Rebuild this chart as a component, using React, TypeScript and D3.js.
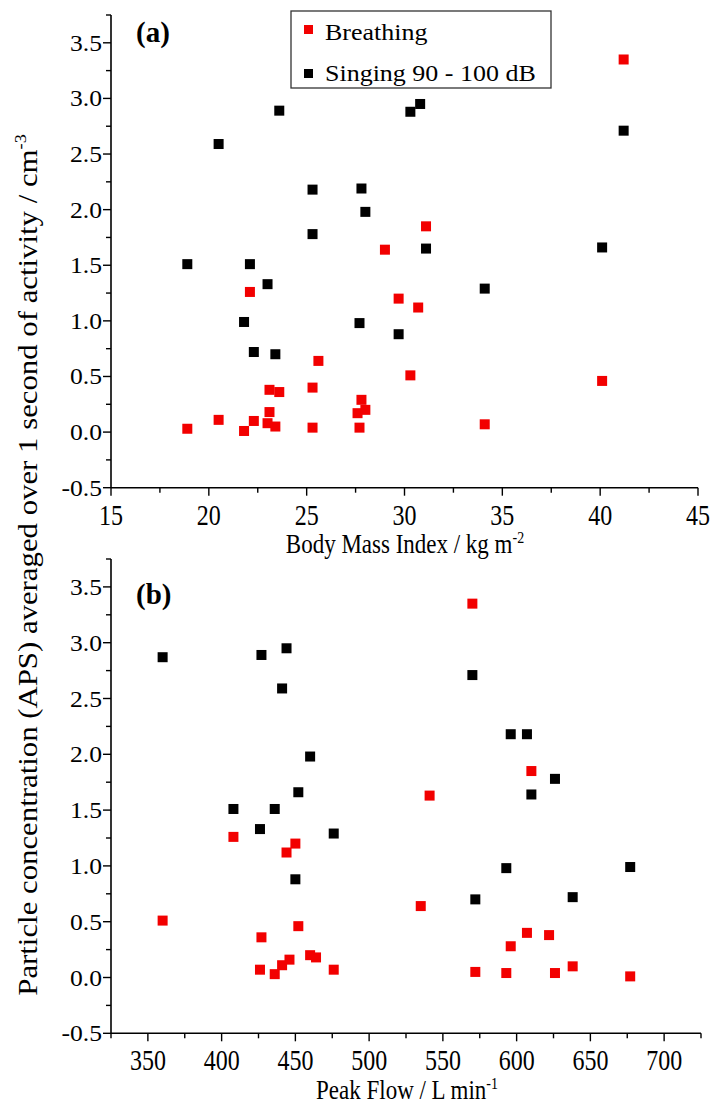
import React from 'react';
import * as d3 from 'd3';

// Panel (a): Body Mass Index
const breathingBMI = [41.2, 31.1, 29.0, 22.1, 29.7, 30.7, 25.6, 30.3, 40.1, 25.3, 23.1, 23.6, 27.8, 28.0, 23.1, 27.6, 20.5, 22.3, 23.0, 34.1, 23.4, 25.3, 27.7, 18.9, 21.8];
const breathingA = [3.35, 1.85, 1.64, 1.26, 1.20, 1.12, 0.64, 0.51, 0.46, 0.40, 0.38, 0.36, 0.29, 0.20, 0.18, 0.17, 0.11, 0.10, 0.08, 0.07, 0.05, 0.04, 0.04, 0.03, 0.01];
const singingBMI = [23.6, 20.5, 30.3, 30.8, 25.3, 27.8, 28.0, 25.3, 18.9, 22.1, 41.2, 31.1, 40.1, 23.0, 21.8, 27.7, 29.7, 22.3, 23.4, 34.1];
const singingA = [2.89, 2.59, 2.88, 2.95, 2.18, 2.19, 1.98, 1.78, 1.51, 1.51, 2.71, 1.65, 1.66, 1.33, 0.99, 0.98, 0.88, 0.72, 0.70, 1.29];

// Panel (b): Peak Flow
const breathingPF = [570, 610, 541, 408, 450, 444, 360, 452, 427, 460, 464, 446, 441, 426, 436, 476, 535, 607, 622, 596, 572, 593, 626, 638, 677];
const breathingB = [3.35, 1.85, 1.63, 1.26, 1.20, 1.12, 0.51, 0.46, 0.36, 0.20, 0.18, 0.16, 0.11, 0.07, 0.03, 0.07, 0.64, 0.40, 0.38, 0.28, 0.05, 0.04, 0.04, 0.10, 0.01];
const singingPF = [360, 427, 444, 441, 460, 452, 408, 436, 570, 596, 607, 626, 610, 426, 476, 450, 593, 677, 572, 638];
const singingB = [2.87, 2.89, 2.95, 2.59, 1.98, 1.66, 1.51, 1.51, 2.71, 2.18, 2.18, 1.78, 1.64, 1.33, 1.29, 0.88, 0.98, 0.99, 0.70, 0.72];

const yTicks = [-0.5, 0, 0.5, 1.0, 1.5, 2.0, 2.5, 3.0, 3.5];
const yMinor = [-0.25, 0.25, 0.75, 1.25, 1.75, 2.25, 2.75, 3.25, 3.75];
const bmiTicks = [15, 20, 25, 30, 35, 40, 45];
const bmiMinor = [17.5, 22.5, 27.5, 32.5, 37.5, 42.5];
const pfTicks = [350, 400, 450, 500, 550, 600, 650, 700];
const pfMinor = [325, 375, 425, 475, 525, 575, 625, 675, 725];

const legendLabels = ['Breathing', 'Singing 90 - 100 dB'];
const RED = '#f20000';
const BLACK = '#000000';
const FONT = "'Liberation Serif', 'Times New Roman', Times, serif";

function T({
  x,
  y,
  sx = 1,
  sy = 1,
  rot = 0,
  size = 20,
  anchor = 'start',
  bold = false,
  children,
}: {
  x: number;
  y: number;
  sx?: number;
  sy?: number;
  rot?: number;
  size?: number;
  anchor?: string;
  bold?: boolean;
  children: React.ReactNode;
}) {
  return (
    <text
      transform={`translate(${x},${y}) rotate(${rot}) scale(${sx},${sy})`}
      textAnchor={anchor}
      style={{ fontSize: `${size}px`, fontFamily: FONT, fontWeight: bold ? 'bold' : 'normal' }}
    >
      {children}
    </text>
  );
}

type PanelProps = {
  xDomain: [number, number];
  xRange: [number, number];
  yRange: [number, number];
  xTicks: number[];
  xMinor: number[];
  series: { xs: number[]; ys: number[]; color: string }[];
  label: string;
  labelY: number;
};

function Panel({ xDomain, xRange, yRange, xTicks, xMinor, series, label, labelY }: PanelProps) {
  const x = d3.scaleLinear().domain(xDomain).range(xRange);
  const y = d3.scaleLinear().domain([-0.5, 3.75]).range(yRange);
  const x0 = xRange[0];
  const yb = yRange[0];
  const sz = 10;
  return (
    <g>
      {series.map((s, si) =>
        s.xs.map((xv, i) => (
          <rect key={`${si}-${i}`} x={x(xv) - sz / 2} y={y(s.ys[i]) - sz / 2} width={sz} height={sz} fill={s.color} />
        ))
      )}
      <line x1={x0} x2={x0} y1={yRange[1]} y2={yb} stroke="#000" strokeWidth={1.6} />
      <line x1={x0} x2={xRange[1]} y1={yb} y2={yb} stroke="#000" strokeWidth={1.6} />
      {yTicks.map((t) => (
        <g key={`yt${t}`}>
          <line x1={x0 - 8} x2={x0} y1={y(t)} y2={y(t)} stroke="#000" strokeWidth={1.4} />
          <T x={x0 - 9} y={y(t) + 8} sx={1.28} sy={1.18} anchor="end">
            {t.toFixed(1)}
          </T>
        </g>
      ))}
      {yMinor.map((t) => (
        <line key={`ym${t}`} x1={x0 - 5} x2={x0} y1={y(t)} y2={y(t)} stroke="#000" strokeWidth={1.4} />
      ))}
      {xTicks.map((t) => (
        <g key={`xt${t}`}>
          <line x1={x(t)} x2={x(t)} y1={yb} y2={yb + 8} stroke="#000" strokeWidth={1.4} />
          <T x={x(t)} y={yb + 37} sx={1.2} sy={1.45} anchor="middle">
            {t}
          </T>
        </g>
      ))}
      {xMinor.map((t) => (
        <line key={`xm${t}`} x1={x(t)} x2={x(t)} y1={yb} y2={yb + 5} stroke="#000" strokeWidth={1.4} />
      ))}
      <T x={136} y={labelY} size={29} bold>
        {label}
      </T>
    </g>
  );
}

export default function App() {
  return (
    <svg
      width={714}
      height={1105}
      style={{ position: 'absolute', left: 0, top: 0, background: '#fff', fontFamily: FONT }}
    >
      <rect x={0} y={0} width={714} height={1105} fill="#fff" />
      <Panel
        xDomain={[15, 45]}
        xRange={[111, 698]}
        yRange={[487.7, 15]}
        xTicks={bmiTicks}
        xMinor={bmiMinor}
        series={[
          { xs: breathingBMI, ys: breathingA, color: RED },
          { xs: singingBMI, ys: singingA, color: BLACK },
        ]}
        label="(a)"
        labelY={42}
      />
      <Panel
        xDomain={[325, 725]}
        xRange={[111, 701]}
        yRange={[1033.3, 559]}
        xTicks={pfTicks}
        xMinor={pfMinor}
        series={[
          { xs: breathingPF, ys: breathingB, color: RED },
          { xs: singingPF, ys: singingB, color: BLACK },
        ]}
        label="(b)"
        labelY={604}
      />
      {/* Legend */}
      <rect x={291} y={11} width={260} height={77} fill="#fff" stroke="#333" strokeWidth={1.3} />
      {legendLabels.map((l, i) => (
        <g key={l}>
          <rect x={304} y={[25, 69][i]} width={9} height={9} fill={[RED, BLACK][i]} />
          <T x={325} y={[40, 81][i]} sx={1.3} sy={1.17}>
            {l}
          </T>
        </g>
      ))}
      {/* Axis titles */}
      <T x={405} y={553} size={23} sy={1.15} anchor="middle">
        Body Mass Index / kg m<tspan dy={-9} style={{ fontSize: '14px' }}>-2</tspan>
      </T>
      <T x={407} y={1099} size={23} sy={1.15} anchor="middle">
        Peak Flow / L min<tspan dy={-9} style={{ fontSize: '14px' }}>-1</tspan>
      </T>
      <T x={37} y={565} rot={-90} size={22} sx={1.4} sy={1.27} anchor="middle">
        Particle concentration (APS) averaged over 1 second of activity / cm
        <tspan dy={-9} style={{ fontSize: '13px' }}>-3</tspan>
      </T>
    </svg>
  );
}
